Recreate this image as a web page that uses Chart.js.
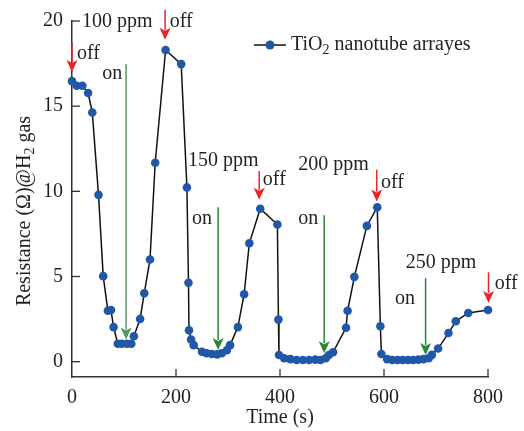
<!DOCTYPE html>
<html>
<head>
<meta charset="utf-8">
<script src="https://cdn.jsdelivr.net/npm/chart.js@4/dist/chart.umd.min.js"></script>
<style>
html,body{margin:0;padding:0;background:#fff;}
#wrap{width:524px;height:431px;position:relative;}
</style>
</head>
<body>
<div id="wrap"><canvas id="c" width="524" height="431"></canvas></div>
<script>
// ---- data ----
const timeS = [0,9,20,31,39,51,60,69,75,80,88,96,106,114,119,131,139,150,160,180,210,221,224,225,229,234,250,259,269,279,288,298,304,319,331,341,362,395,397,398,408,420,432,444,456,468,478,488,494,502,527,530,543,567,587,593,595,606,616,626,636,646,656,666,676,686,692,704,724,738,762,800];
const resistance = [16.47,16.2,16.2,15.77,14.63,9.79,5.02,2.99,3.03,2.03,1.05,1.05,1.05,1.05,1.49,2.51,4.02,6.0,11.68,18.3,17.47,10.23,4.63,1.84,1.3,0.97,0.58,0.49,0.45,0.43,0.49,0.68,0.97,2.03,3.96,6.95,8.98,8.05,2.47,0.39,0.2,0.15,0.1,0.1,0.1,0.12,0.1,0.2,0.39,0.55,1.99,2.99,4.98,7.97,9.07,2.08,0.45,0.15,0.1,0.1,0.1,0.1,0.1,0.12,0.15,0.2,0.4,0.77,1.68,2.37,2.86,3.03];
const xTicks = [0,200,400,600,800];
const yTicks = [0,5,10,15,20];
const seriesName = 'TiO2 nanotube arrayes';

// annotation arrows (data units)
const offArrowT   = [0,179,360,586,801];
const offArrowTop = [18.74,20.66,11.2,11.27,5.25];
const offArrowTip = [17.0,18.9,9.5,9.4,3.45];
const onArrowT    = [104,281,485,680];
const onArrowTop  = [17.47,9.07,8.6,4.9];
const onArrowTip  = [1.3,0.68,0.5,0.39];
// annotation texts (data units, left edge / vertical middle)
const noteText = ['100 ppm','off','off','on','150 ppm','off','on','200 ppm','off','on','250 ppm','on','off'];
const noteT    = [19,188,9.6,58,223,367,231,435,594,435,642,621,813];
const noteV    = [19.96,19.96,18.05,16.9,11.8,10.7,8.38,11.56,10.52,8.38,5.83,3.69,4.56];

const FONT = '"Liberation Serif","Times New Roman",serif';
const TXT = '#231f20';
const BLUE = '#2157a7';

function arrow(ctx, x, y0, y1, color, lw){
  ctx.save();
  ctx.strokeStyle = color; ctx.fillStyle = color; ctx.lineWidth = lw;
  const hl = 12, hw = 5.5;
  ctx.beginPath(); ctx.moveTo(x, y0); ctx.lineTo(x, y1 - hl + 2); ctx.stroke();
  ctx.beginPath();
  ctx.moveTo(x, y1);
  ctx.lineTo(x - hw, y1 - hl);
  ctx.lineTo(x, y1 - hl + 3);
  ctx.lineTo(x + hw, y1 - hl);
  ctx.closePath(); ctx.fill();
  ctx.restore();
}

function subText(ctx, parts, x, y, size){
  let cx = x;
  for (const [t, sub] of parts){
    ctx.font = (sub ? Math.round(size*0.68) : size) + 'px ' + FONT;
    ctx.fillText(t, cx, sub ? y + size*0.28 : y);
    cx += ctx.measureText(t).width;
  }
  return cx - x;
}
function measureParts(ctx, parts, size){
  let w = 0;
  for (const [t, sub] of parts){
    ctx.font = (sub ? Math.round(size*0.68) : size) + 'px ' + FONT;
    w += ctx.measureText(t).width;
  }
  return w;
}

const decor = {
  id: 'decor',
  afterDraw(chart){
    const ctx = chart.ctx, xs = chart.scales.x, ys = chart.scales.y;
    const a = chart.chartArea;
    ctx.save();
    ctx.strokeStyle = '#333'; ctx.lineWidth = 1.3;
    xTicks.forEach(v => { if (v === 0) return; const px = xs.getPixelForValue(v);
      ctx.beginPath(); ctx.moveTo(px, a.bottom); ctx.lineTo(px, a.bottom - 8); ctx.stroke(); });
    yTicks.forEach(v => { const py = ys.getPixelForValue(v);
      ctx.beginPath(); ctx.moveTo(a.left, py); ctx.lineTo(a.left + 8, py); ctx.stroke(); });
    onArrowT.forEach((t,i) => arrow(ctx, xs.getPixelForValue(t), ys.getPixelForValue(onArrowTop[i]), ys.getPixelForValue(onArrowTip[i]), i === 0 ? '#4f9a61' : '#2a8537', 1.5));
    offArrowT.forEach((t,i) => arrow(ctx, xs.getPixelForValue(t), ys.getPixelForValue(offArrowTop[i]), ys.getPixelForValue(offArrowTip[i]), '#ec2227', 1.5));
    ctx.fillStyle = TXT; ctx.textBaseline = 'middle'; ctx.textAlign = 'left';
    ctx.font = '20px ' + FONT;
    noteText.forEach((s,i) => ctx.fillText(s, xs.getPixelForValue(noteT[i]), ys.getPixelForValue(noteV[i])));
    const ly = 45;
    ctx.strokeStyle = '#111'; ctx.lineWidth = 1.5;
    ctx.beginPath(); ctx.moveTo(254, ly); ctx.lineTo(286, ly); ctx.stroke();
    ctx.fillStyle = BLUE; ctx.beginPath(); ctx.arc(270, ly, 4.5, 0, Math.PI*2); ctx.fill();
    ctx.fillStyle = TXT;
    subText(ctx, [['TiO',false],['2',true],[' nanotube arrayes',false]], 291, ly, 20);
    ctx.font = '20px ' + FONT; ctx.textAlign = 'center';
    ctx.fillText('Time (s)', (a.left + a.right)/2, 418);
    ctx.translate(25, 211); ctx.rotate(-Math.PI/2);
    ctx.textAlign = 'left';
    const parts = [['Resistance (Ω)@H',false],['2',true],[' gas',false]];
    const w = measureParts(ctx, parts, 20);
    subText(ctx, parts, -w/2, 0, 20);
    ctx.restore();
  }
};

new Chart(document.getElementById('c'), {
  type: 'line',
  data: {
    datasets: [{
      label: seriesName,
      data: timeS.map((t,i) => ({x: t, y: resistance[i]})),
      borderColor: '#111', borderWidth: 1.5,
      pointBackgroundColor: BLUE, pointBorderColor: BLUE,
      pointRadius: 4.3, pointBorderWidth: 0, tension: 0, clip: false
    }]
  },
  options: {
    responsive: false, animation: false,
    layout: { padding: { left: 0, top: 16, right: 36, bottom: 0 } },
    plugins: { legend: { display: false }, tooltip: { enabled: false } },
    scales: {
      x: {
        type: 'linear', min: 0, max: 800,
        afterBuildTicks: s => { s.ticks = xTicks.map(v => ({value: v})); },
        afterFit: s => { s.height = 54; },
        grid: { display: false, drawTicks: false },
        border: { display: true, color: '#333', width: 1.5 },
        ticks: { padding: 9, color: TXT, font: { family: FONT, size: 20 } }
      },
      y: {
        type: 'linear', min: -0.9, max: 20,
        afterBuildTicks: s => { s.ticks = yTicks.map(v => ({value: v})); },
        afterFit: s => { s.width = 72; },
        grid: { display: false, drawTicks: false },
        border: { display: true, color: '#333', width: 1.5 },
        ticks: { padding: 9, color: TXT, font: { family: FONT, size: 20 } }
      }
    }
  },
  plugins: [decor]
});
</script>
</body>
</html>
